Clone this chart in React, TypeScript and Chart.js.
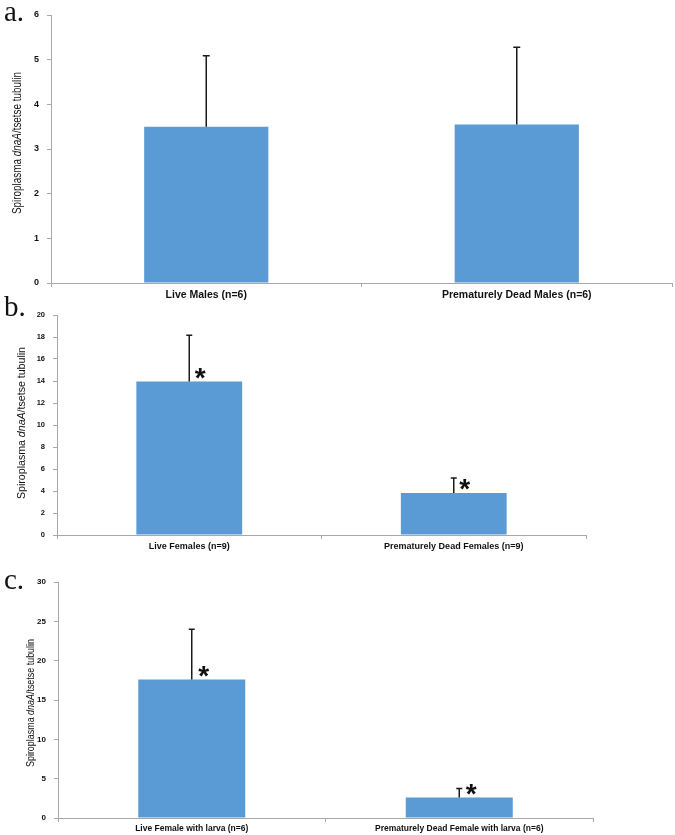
import React, { useEffect, useRef } from 'react';
import { Chart, registerables } from 'chart.js';
Chart.register(...registerables);

// ---------- DATA ----------
const categoriesA = ['Live Males (n=6)', 'Prematurely Dead Males (n=6)'];
const valuesA = [3.5, 3.55];
const errorsA = [1.59, 1.73];
const starsA = [false, false];
const yMaxA = 6;
const yStepA = 1;

const categoriesB = ['Live Females (n=9)', 'Prematurely Dead Females (n=9)'];
const valuesB = [13.95, 3.82];
const errorsB = [4.2, 1.36];
const starsB = [true, true];
const yMaxB = 20;
const yStepB = 2;

const categoriesC = ['Live Female with larva (n=6)', 'Prematurely Dead Female with larva (n=6)'];
const valuesC = [17.6, 2.6];
const errorsC = [6.4, 1.15];
const starsC = [true, true];
const yMaxC = 30;
const yStepC = 5;

const panelLabels = ['a.', 'b.', 'c.'];
const yTitleParts = [
  { text: 'Spiroplasma ', italic: false },
  { text: 'dnaA', italic: true },
  { text: '/tsetse tubulin', italic: false },
];

const BAR_COLOR = '#5B9BD5';
const AXIS_COLOR = '#a8a8a8';

const extrasPlugin = {
  id: 'extras',
  afterDatasetsDraw(chart: any, _args: any, opts: any) {
    const { ctx } = chart;
    const meta = chart.getDatasetMeta(0);
    const ys = chart.scales.y;
    const values = chart.data.datasets[0].data as number[];
    meta.data.forEach((bar: any, i: number) => {
      const x = bar.x;
      const base = bar.y;
      const top = ys.getPixelForValue(values[i] + opts.errors[i]);
      ctx.save();
      ctx.strokeStyle = '#1a1a1a';
      ctx.lineWidth = opts.errWidth;
      ctx.beginPath();
      ctx.moveTo(x, base);
      ctx.lineTo(x, top);
      ctx.moveTo(x - opts.cap / 2, top);
      ctx.lineTo(x + opts.cap / 2, top);
      ctx.stroke();
      if (opts.stars[i]) {
        ctx.fillStyle = '#111';
        ctx.font = `bold ${opts.starSize}px 'Liberation Sans', Arial, sans-serif`;
        ctx.textAlign = 'center';
        ctx.textBaseline = 'alphabetic';
        ctx.fillText('*', x + opts.starDx, base + opts.starDy);
      }
      ctx.restore();
    });
  },
  afterDraw(chart: any, _args: any, opts: any) {
    const { ctx, chartArea } = chart;
    const cy = (chartArea.top + chartArea.bottom) / 2 + opts.titleDy;
    ctx.save();
    ctx.translate(opts.titleX, cy);
    ctx.rotate(-Math.PI / 2);
    ctx.textBaseline = 'middle';
    ctx.textAlign = 'left';
    ctx.fillStyle = '#111';
    const fontFor = (it: boolean) => `${it ? 'italic ' : ''}${opts.titleSize}px ${opts.titleFont}`;
    let total = 0;
    yTitleParts.forEach((p) => {
      ctx.font = fontFor(p.italic);
      total += ctx.measureText(p.text).width;
    });
    const k = opts.titleLen / total;
    ctx.scale(k, 1);
    let xx = -total / 2;
    yTitleParts.forEach((p) => {
      ctx.font = fontFor(p.italic);
      ctx.fillText(p.text, xx, 0);
      xx += ctx.measureText(p.text).width;
    });
    ctx.restore();
  },
};

type PanelProps = {
  top: number;
  height: number;
  categories: string[];
  values: number[];
  errors: number[];
  stars: boolean[];
  yMax: number;
  yStep: number;
  padTop: number;
  padRight: number;
  yWidth: number;
  xHeight: number;
  tickFont: any;
  catFont: any;
  titleX: number;
  titleSize: number;
  titleFont: string;
  titleDy: number;
  titleLen: number;
  cap: number;
  starSize: number;
  starDx: number;
  starDy: number;
};

function Panel(p: PanelProps) {
  const ref = useRef<HTMLCanvasElement | null>(null);
  useEffect(() => {
    if (!ref.current) return;
    const chart = new Chart(ref.current, {
      type: 'bar',
      data: {
        labels: p.categories,
        datasets: [
          {
            data: p.values,
            backgroundColor: BAR_COLOR,
            borderWidth: 0,
            barPercentage: 0.4,
            categoryPercentage: 1,
          },
        ],
      },
      plugins: [extrasPlugin],
      options: {
        animation: false,
        responsive: false,
        devicePixelRatio: 1,
        layout: { padding: { top: p.padTop, right: p.padRight, left: 0, bottom: 0 } },
        plugins: {
          legend: { display: false },
          tooltip: { enabled: false },
          extras: {
            errors: p.errors,
            stars: p.stars,
            cap: p.cap,
            errWidth: 1.5,
            starSize: p.starSize,
            starDx: p.starDx,
            starDy: p.starDy,
            titleX: p.titleX,
            titleSize: p.titleSize,
            titleFont: p.titleFont,
            titleDy: p.titleDy,
            titleLen: p.titleLen,
          },
        } as any,
        scales: {
          x: {
            afterFit: (s: any) => {
              s.height = p.xHeight;
            },
            grid: {
              display: true,
              drawOnChartArea: false,
              drawTicks: true,
              tickLength: 4,
              color: AXIS_COLOR,
              offset: true,
            },
            border: { display: true, color: AXIS_COLOR, width: 1 },
            ticks: { color: '#111', font: p.catFont, padding: 2, maxRotation: 0, autoSkip: false },
          },
          y: {
            min: 0,
            max: p.yMax,
            afterFit: (s: any) => {
              s.width = p.yWidth;
            },
            grid: {
              display: true,
              drawOnChartArea: false,
              drawTicks: true,
              tickLength: 4,
              color: AXIS_COLOR,
            },
            border: { display: true, color: AXIS_COLOR, width: 1 },
            ticks: { stepSize: p.yStep, color: '#111', font: p.tickFont, padding: 8 },
          },
        },
      },
    });
    return () => chart.destroy();
  }, []);
  return (
    <div style={{ position: 'absolute', left: 0, top: p.top, width: 675, height: p.height }}>
      <canvas ref={ref} width={675} height={p.height} style={{ width: 675, height: p.height, display: 'block' }} />
    </div>
  );
}

const labelStyle = (top: number): React.CSSProperties => ({
  position: 'absolute',
  left: 4,
  top,
  fontFamily: "'Liberation Serif', 'Times New Roman', serif",
  fontSize: 29,
  lineHeight: '29px',
  color: '#111',
});

export default function App() {
  return (
    <div style={{ position: 'absolute', left: 0, top: 0, width: 675, height: 835, background: '#fff', overflow: 'hidden' }}>
      <Panel
        top={0}
        height={300}
        categories={categoriesA}
        values={valuesA}
        errors={errorsA}
        stars={starsA}
        yMax={yMaxA}
        yStep={yStepA}
        padTop={15}
        padRight={3}
        yWidth={51}
        xHeight={17}
        tickFont={{ family: "'Liberation Sans', Arial, sans-serif", size: 9, weight: 'bold' }}
        catFont={{ family: "'Liberation Sans', Arial, sans-serif", size: 10.5, weight: 'bold' }}
        titleX={18}
        titleSize={12.5}
        titleFont="'Liberation Sans', Arial, sans-serif"
        titleDy={-6}
        titleLen={142}
        cap={7}
        starSize={28}
        starDx={11}
        starDy={5}
      />
      <Panel
        top={300}
        height={255}
        categories={categoriesB}
        values={valuesB}
        errors={errorsB}
        stars={starsB}
        yMax={yMaxB}
        yStep={yStepB}
        padTop={15}
        padRight={89}
        yWidth={57}
        xHeight={20}
        tickFont={{ family: "'Liberation Sans', Arial, sans-serif", size: 7.5, weight: 'bold' }}
        catFont={{ family: "'Liberation Sans', Arial, sans-serif", size: 9, weight: 'bold' }}
        titleX={22}
        titleSize={10.5}
        titleFont="'Liberation Sans', Arial, sans-serif"
        titleDy={-2}
        titleLen={152}
        cap={6}
        starSize={28}
        starDx={11}
        starDy={5}
      />
      <Panel
        top={560}
        height={275}
        categories={categoriesC}
        values={valuesC}
        errors={errorsC}
        stars={starsC}
        yMax={yMaxC}
        yStep={yStepC}
        padTop={22}
        padRight={82}
        yWidth={58}
        xHeight={17}
        tickFont={{ family: "'Liberation Sans', Arial, sans-serif", size: 8, weight: 'bold' }}
        catFont={{ family: "'Liberation Sans', Arial, sans-serif", size: 8.5, weight: 'bold' }}
        titleX={31}
        titleSize={10.5}
        titleFont="'Liberation Sans', Arial, sans-serif"
        titleDy={3}
        titleLen={128}
        cap={6}
        starSize={28}
        starDx={12}
        starDy={5}
      />
      <div style={labelStyle(-3)}>{panelLabels[0]}</div>
      <div style={labelStyle(292)}>{panelLabels[1]}</div>
      <div style={labelStyle(565)}>{panelLabels[2]}</div>
    </div>
  );
}
